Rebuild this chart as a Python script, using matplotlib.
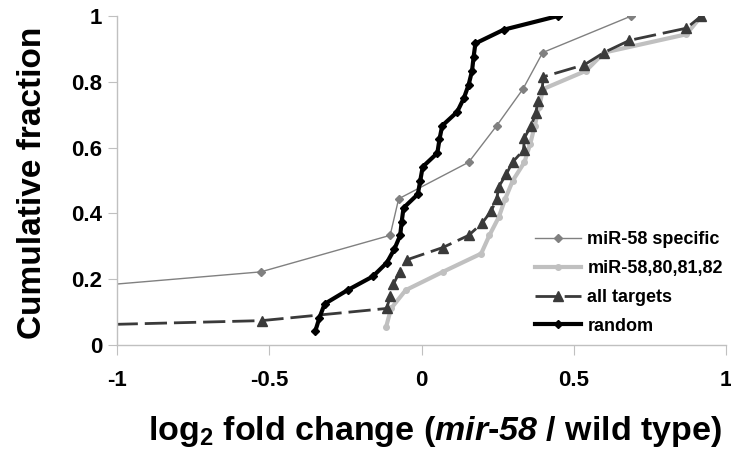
import matplotlib
matplotlib.use("Agg")
import matplotlib.pyplot as plt
import numpy as np

plt.rcParams['font.family'] = 'Liberation Sans'
plt.rcParams['font.weight'] = 'bold'
plt.rcParams['mathtext.fontset'] = 'custom'
plt.rcParams['mathtext.rm'] = 'Liberation Sans:bold'
plt.rcParams['mathtext.it'] = 'Liberation Sans:bold:italic'
plt.rcParams['mathtext.sf'] = 'Liberation Sans:bold:italic'
plt.rcParams['mathtext.bf'] = 'Liberation Sans:bold'

# --- data (log2 fold change, cumulative fraction = k/n)
spec_x = [-1.95, -0.528, -0.103, -0.075, 0.155, 0.247, 0.333, 0.398, 0.689]
fam_x = [-0.116, -0.100, -0.052, 0.070, 0.196, 0.223, 0.254, 0.275, 0.300,
         0.338, 0.357, 0.372, 0.386, 0.399, 0.540, 0.600, 0.870, 0.919]
all_x = [-2.1, -0.525, -0.114, -0.103, -0.092, -0.072, -0.047, 0.070, 0.155,
         0.199, 0.229, 0.247, 0.254, 0.278, 0.299, 0.335, 0.338, 0.360, 0.375,
         0.382, 0.397, 0.399, 0.535, 0.599, 0.683, 0.870, 0.919]
rand_x = [-0.349, -0.335, -0.318, -0.243, -0.160, -0.114, -0.089, -0.070,
          -0.065, -0.059, -0.012, -0.004, 0.004, 0.052, 0.059, 0.068, 0.117,
          0.139, 0.155, 0.166, 0.171, 0.177, 0.270, 0.448]

def cum(xs):
    n = len(xs)
    return np.arange(1, n + 1) / n

fig = plt.figure(figsize=(7.31, 4.49), dpi=100)
ax = fig.add_axes([117/731, 104/449, 609/731, 329/449])

ax.plot(spec_x, cum(spec_x), color='#808080', linewidth=1.0, marker='D',
        markersize=4.5, label='miR-58 specific')
ax.plot(fam_x, cum(fam_x), color='#c0c0c0', linewidth=3.0, marker='o',
        markersize=4, label='miR-58,80,81,82')
ax.plot(all_x, cum(all_x), color='#3a3a3a', linewidth=2.0, dashes=(8, 2.5),
        marker='^', markersize=7, label='all targets')
ax.plot(rand_x, cum(rand_x), color='black', linewidth=3.0, marker='D',
        markersize=4, label='random')

ax.set_xlim(-1, 1)
ax.set_ylim(0, 1)
ax.set_xticks([-1, -0.5, 0, 0.5, 1])
ax.set_xticklabels(['-1', '-0.5', '0', '0.5', '1'])
ax.set_yticks([0, 0.2, 0.4, 0.6, 0.8, 1])
ax.set_yticklabels(['0', '0.2', '0.4', '0.6', '0.8', '1'])

for s in ['top', 'right']:
    ax.spines[s].set_visible(False)
for s in ['left', 'bottom']:
    ax.spines[s].set_color('#c0c0c0')
    ax.spines[s].set_linewidth(1.0)
ax.tick_params(axis='both', direction='out', color='#c0c0c0', labelsize=16)
ax.tick_params(axis='y', length=6.5, pad=4)
ax.tick_params(axis='x', length=7, pad=11)

ax.set_xlabel(r'log$_2$ fold change ($\mathsf{mir}$-$\mathsf{58}$ / wild type)',
              fontsize=24.5, fontweight='bold')
ax.xaxis.set_label_coords(0.522, -0.21)
ax.set_ylabel('Cumulative fraction', fontsize=24, fontweight='bold')
ax.yaxis.set_label_coords(-0.113, 0.494)

ax.legend(loc='upper left', bbox_to_anchor=(535/731, 218/449),
          bbox_transform=fig.transFigure, frameon=False, fontsize=13,
          handlelength=2.55, handletextpad=0.35, labelspacing=0.66,
          borderpad=0, borderaxespad=0)

fig.savefig('out.png', dpi=100)
